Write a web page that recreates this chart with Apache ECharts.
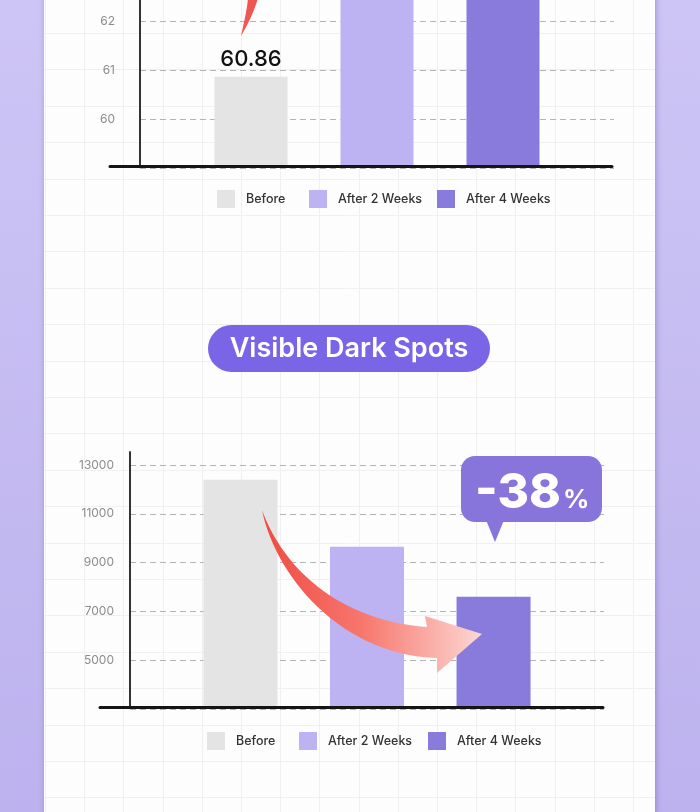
<!DOCTYPE html>
<html><head><meta charset="utf-8">
<script src="https://cdn.jsdelivr.net/npm/echarts@6/dist/echarts.min.js"></script>
<style>html,body{margin:0;padding:0;background:#c6bdf2;} #c{width:700px;height:812px;}</style>
</head><body><div id="c"></div>
<script>
// ---- data ----
const categories = ['Before', 'After 2 Weeks', 'After 4 Weeks'];
const hydrationValues = [60.86, 63.6, 64.5];
const spotValues = [12400, 9650, 7600];
const hydrationAxis = { min: 59, max: 66, interval: 1 };
const spotAxis = { min: 3000, max: 13000, interval: 2000 };
const spotsTitle = 'Visible Dark Spots';
const changeNumber = '-38';
const changeUnit = '%';
const barColors = ['#e4e4e4', '#bdb3f3', '#897bdc'];

const FONT = 'Inter, "Noto Sans", sans-serif';
const chart = echarts.init(document.getElementById('c'), null, { renderer: 'canvas' });

// decorative helpers
function bez(p0, p1, p2, p3, n) {
  const pts = [];
  for (let i = 0; i <= n; i++) {
    const t = i / n, u = 1 - t;
    pts.push([
      u * u * u * p0[0] + 3 * u * u * t * p1[0] + 3 * u * t * t * p2[0] + t * t * t * p3[0],
      u * u * u * p0[1] + 3 * u * u * t * p1[1] + 3 * u * t * t * p2[1] + t * t * t * p3[1]
    ]);
  }
  return pts;
}
const bgLines = [];
for (let k = 0; k <= 15; k++) {
  const x = Math.round(45 + 39.2 * k) + 0.5;
  bgLines.push({ type: 'line', z: -9, silent: true, shape: { x1: x, y1: 0, x2: x, y2: 812 }, style: { stroke: '#f0f0f0', lineWidth: 1 } });
}
for (let k = 0; k <= 21; k++) {
  const y = Math.round(33 + 36.4 * k) + 0.5;
  bgLines.push({ type: 'line', z: -9, silent: true, shape: { x1: 44, y1: y, x2: 655, y2: y }, style: { stroke: '#f0f0f0', lineWidth: 1 } });
}
const downArrowPts = [].concat(
  bez([262, 510], [282, 565], [335, 620], [427, 627], 30),
  [[425, 616], [482, 634], [437, 673], [437, 658]],
  bez([437, 658], [340, 655], [275, 575], [262, 510], 30)
);
const upTailPts = [].concat(
  bez([241, 36], [244, 22], [247, 10], [248, -2], 12),
  bez([258, -2], [254, 12], [248, 24], [241, 36], 12)
);

function xAxisLine(gi) {
  return { type: 'category', gridIndex: gi, data: [''], z: 10,
    axisLine: { show: true, onZero: false, lineStyle: { color: '#151515', width: 3 } },
    axisTick: { show: false }, axisLabel: { show: false }, splitLine: { show: false } };
}
function yAxisLine(gi) {
  return { type: 'value', gridIndex: gi, min: 0, max: 1, offset: -30, z: 10,
    axisLine: { show: true, lineStyle: { color: '#333', width: 2 } },
    axisTick: { show: false }, axisLabel: { show: false }, splitLine: { show: false } };
}
function valueAxis(gi, cfg, margin) {
  return { type: 'value', gridIndex: gi, min: cfg.min, max: cfg.max, interval: cfg.interval,
    axisLine: { show: false }, axisTick: { show: false },
    axisLabel: { showMinLabel: false, margin: margin, color: '#8c8c8c', fontFamily: FONT, fontSize: 12,
      formatter: function (v) { return String(v); } },
    splitLine: { show: true, lineStyle: { color: '#b4b4b4', type: [6, 4], width: 1 } } };
}
function barSeries(values, xi, yi, barWidth, barGap, withLabel) {
  return categories.map((name, i) => ({
    type: 'bar', name: name, xAxisIndex: xi, yAxisIndex: yi,
    data: [values[i]], barWidth: barWidth, barGap: barGap,
    itemStyle: { color: barColors[i] },
    label: (withLabel && i === 0) ? { show: true, position: 'top', distance: 6, fontFamily: FONT, fontSize: 22, fontWeight: 500, color: '#111' } : { show: false },
    emphasis: { disabled: true }
  }));
}
function legendAt(name, left, top) {
  return { data: [name], left: left, top: top, padding: 0, icon: 'rect', itemWidth: 18, itemHeight: 18, itemGap: 0,
    selectedMode: false,
    textStyle: { fontFamily: FONT, fontSize: 12.5, fontWeight: 500, color: '#333', padding: [0, 0, 0, 6] } };
}
function gridBox(l, r, t, b) {
  return { left: l, right: r, top: t, bottom: b, containLabel: false, outerBoundsMode: 'none' };
}

const option = {
  animation: false,
  backgroundColor: 'transparent',
  grid: [
    gridBox(110, 88, -175, 645.5),   // top chart axes
    gridBox(140, 86, -175, 644),     // top chart bars
    gridBox(100, 97, 452, 104.5),    // bottom chart axes
    gridBox(130, 96, 465, 103)       // bottom chart bars
  ],
  xAxis: [
    xAxisLine(0),
    { type: 'category', gridIndex: 1, data: [''], show: false },
    xAxisLine(2),
    { type: 'category', gridIndex: 3, data: [''], show: false }
  ],
  yAxis: [
    yAxisLine(0),
    valueAxis(1, hydrationAxis, 25),
    yAxisLine(2),
    valueAxis(3, spotAxis, 16)
  ],
  legend: [
    legendAt(categories[0], 217, 190), legendAt(categories[1], 309, 190), legendAt(categories[2], 437, 190),
    legendAt(categories[0], 207, 732), legendAt(categories[1], 299, 732), legendAt(categories[2], 428, 732)
  ],
  series: [].concat(
    barSeries(hydrationValues, 1, 1, 73, '72.6%', true),
    barSeries(spotValues, 3, 3, 74, '71%', false)
  ),
  graphic: [
    { type: 'rect', z: -20, silent: true, shape: { x: 0, y: 0, width: 700, height: 812 },
      style: { fill: new echarts.graphic.LinearGradient(0, 0, 0, 1, [{ offset: 0, color: '#cdc5f5' }, { offset: 1, color: '#bdb2ee' }]) } },
    { type: 'rect', z: -15, silent: true, shape: { x: 44, y: -10, width: 611, height: 832 },
      style: { fill: '#fdfdfd', shadowBlur: 6, shadowColor: 'rgba(70,50,150,0.35)', shadowOffsetX: 1 } }
  ].concat(bgLines).concat([
    { type: 'rect', z: 20, shape: { x: 208, y: 325, width: 282, height: 47, r: 23.5 }, style: { fill: '#7a65e6' } },
    { type: 'text', z: 21, x: 349, y: 349,
      style: { text: spotsTitle, fill: '#ffffff', font: '600 27px ' + FONT, align: 'center', verticalAlign: 'middle', textAlign: 'center', textVerticalAlign: 'middle' } },
    { type: 'polygon', z: 30, shape: { points: upTailPts }, style: { fill: '#ef5850' } },
    { type: 'polygon', z: 30, shape: { points: downArrowPts },
      style: { fill: new echarts.graphic.LinearGradient(0, 0, 1, 0, [{ offset: 0, color: '#ef4b43' }, { offset: 0.45, color: '#f7766c' }, { offset: 1, color: '#fcd7d3' }]) } },
    { type: 'rect', z: 30, shape: { x: 461, y: 456, width: 141, height: 66, r: 14 }, style: { fill: '#8775dc' } },
    { type: 'polygon', z: 30, shape: { points: [[486, 520], [504, 520], [495, 542]] }, style: { fill: '#8775dc' } },
    { type: 'text', z: 31, x: 475, y: 494,
      style: { text: changeNumber, fill: '#ffffff', font: '800 48px ' + FONT, align: 'left', verticalAlign: 'middle', textAlign: 'left', textVerticalAlign: 'middle' } },
    { type: 'text', z: 31, x: 563, y: 500,
      style: { text: changeUnit, fill: '#ffffff', font: '700 26px ' + FONT, align: 'left', verticalAlign: 'middle', textAlign: 'left', textVerticalAlign: 'middle' } }
  ])
};
chart.setOption(option);
</script>
</body></html>
